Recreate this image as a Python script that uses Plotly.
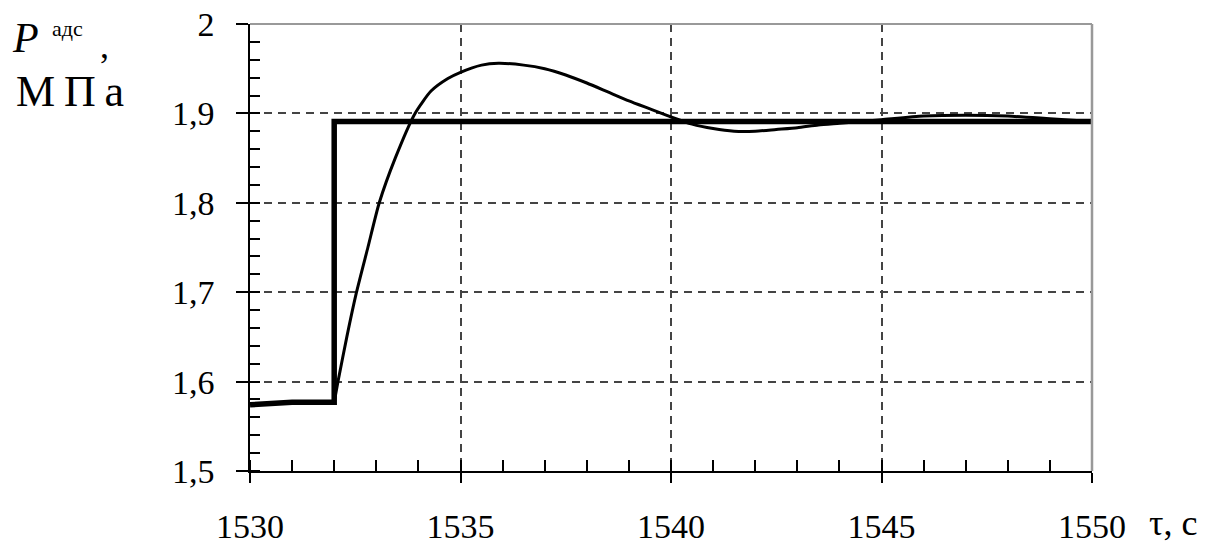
import plotly.graph_objects as go

# ---- data ----
t_step = [1530, 1531, 1532, 1532, 1550]
p_step = [1.574, 1.577, 1.577, 1.891, 1.891]

t_resp = [1532.0, 1532.09, 1532.3, 1532.53, 1532.8, 1533.07, 1533.45, 1533.92, 1534.3,
          1534.7, 1535.0, 1535.5, 1535.9, 1536.5, 1537.0, 1537.5, 1538.0, 1538.5, 1539.0,
          1539.5, 1540.0, 1540.5, 1541.0, 1541.5, 1542.0, 1542.5, 1543.0, 1543.5, 1544.0,
          1545.0, 1546.0, 1547.0, 1548.0, 1549.0, 1550.0]
p_resp = [1.577, 1.6, 1.65, 1.7, 1.75, 1.8, 1.85, 1.9, 1.925,
          1.939, 1.946, 1.954, 1.956, 1.954, 1.950, 1.943, 1.934, 1.924, 1.914,
          1.905, 1.896, 1.888, 1.883, 1.880, 1.880, 1.882, 1.884, 1.887, 1.889,
          1.893, 1.897, 1.898, 1.897, 1.894, 1.891]

x_ticks = [1530, 1535, 1540, 1545, 1550]
y_ticks = [1.5, 1.6, 1.7, 1.8, 1.9, 2.0]
y_ticktext = ["1,5", "1,6", "1,7", "1,8", "1,9", "2"]

FONT = "Liberation Serif, Times New Roman, serif"

fig = go.Figure()
fig.add_trace(go.Scatter(x=t_step, y=p_step, mode="lines",
                         line=dict(color="black", width=5.5), showlegend=False))
fig.add_trace(go.Scatter(x=t_resp, y=p_resp, mode="lines",
                         line=dict(color="black", width=3, shape="spline", smoothing=0.6),
                         showlegend=False))

# page body margin removed via post_script, so figure fills the window
OFF = 0
W, H = 1215 - OFF, 544 - OFF
PL, PR, PT, PB = 250, 1092, 24, 471.5          # plot box in page pixels
L, T = PL - OFF, PT - OFF
R = W - (PR - OFF)
B = H - (PB - OFF)
pw, ph = PR - PL, PB - PT

def px(p):
    return (p - PL) / pw

def py(p):
    return (PB - p) / ph

fig.update_layout(
    width=W, height=H,
    margin=dict(l=L, r=R, t=T, b=B, autoexpand=False),
    paper_bgcolor="white", plot_bgcolor="white",
    font=dict(family=FONT, color="black", size=34),
    xaxis=dict(range=[1530, 1550], tickmode="array", tickvals=x_ticks,
               ticktext=[str(v) for v in x_ticks], automargin=False,
               ticklabeloverflow="allow",
               ticks="outside", ticklen=10, tickwidth=1.5, tickcolor="black",
               showline=True, linecolor="black", linewidth=1.5,
               showgrid=True, gridcolor="#444444", gridwidth=1.5, griddash="8px,6px",
               zeroline=False, ticklabelstandoff=14,
               tickfont=dict(family=FONT, size=34),
               minor=dict(dtick=1, tick0=1530, ticks="inside", ticklen=11,
                          tickwidth=1.5, tickcolor="black", showgrid=False)),
    yaxis=dict(range=[1.5, 2.0], tickmode="array", tickvals=y_ticks, ticktext=y_ticktext,
               automargin=False, ticklabeloverflow="allow",
               ticks="outside", ticklen=12, tickwidth=1.5, tickcolor="black",
               showline=True, linecolor="black", linewidth=1.5,
               showgrid=True, gridcolor="#444444", gridwidth=1.5, griddash="8px,6px",
               zeroline=False, ticklabelstandoff=15,
               tickfont=dict(family=FONT, size=34),
               minor=dict(dtick=0.02, tick0=1.5, ticks="inside", ticklen=10,
                          tickwidth=1.5, tickcolor="black", showgrid=False)),
    shapes=[
        dict(type="line", xref="paper", yref="paper", x0=0, x1=1, y0=1, y1=1,
             line=dict(color="#999999", width=2), layer="above"),
        dict(type="line", xref="paper", yref="paper", x0=1, x1=1, y0=0, y1=1,
             line=dict(color="#999999", width=2.5), layer="above"),
    ],
    annotations=[
        dict(text="<i>P</i>", xref="paper", yref="paper", x=px(10), y=py(38),
             xanchor="left", yanchor="middle", showarrow=False,
             font=dict(family=FONT, size=42)),
        dict(text="адс", xref="paper", yref="paper", x=px(50), y=py(29),
             xanchor="left", yanchor="middle", showarrow=False,
             font=dict(family=FONT, size=22)),
        dict(text=",", xref="paper", yref="paper", x=px(98), y=py(46),
             xanchor="left", yanchor="middle", showarrow=False,
             font=dict(family=FONT, size=36)),
        dict(text="М\u2009П\u2009а", xref="paper", yref="paper", x=px(14), y=py(92),
             xanchor="left", yanchor="middle", showarrow=False,
             font=dict(family=FONT, size=44)),
        dict(text="τ, с", xref="paper", yref="paper", x=px(1148), y=py(524),
             xanchor="left", yanchor="middle", showarrow=False, borderpad=0,
             font=dict(family=FONT, size=36)),
    ],
)

fig.write_html("out.html", config={"displayModeBar": False},
               post_script="document.body.style.margin='0';document.body.style.padding='0';")
